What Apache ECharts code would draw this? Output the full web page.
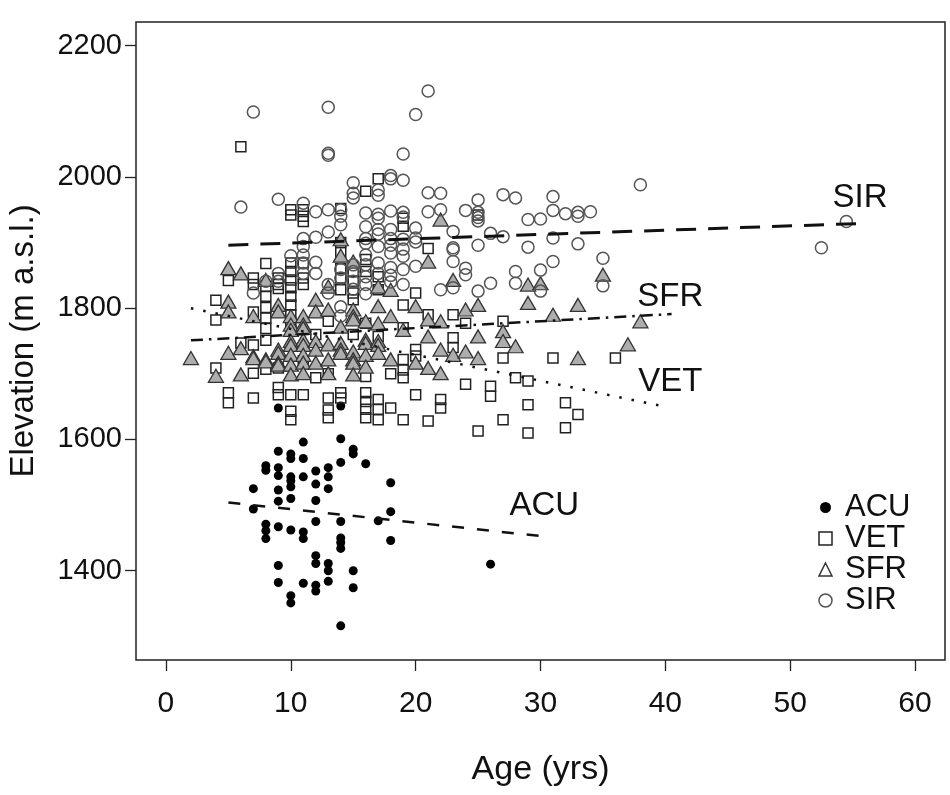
<!DOCTYPE html>
<html>
<head>
<meta charset="utf-8">
<script src="https://cdn.jsdelivr.net/npm/echarts@6/dist/echarts.min.js"></script>
<style>
  html, body { margin: 0; padding: 0; background: #fff; }
  #chart { width: 950px; height: 795px; }
</style>
</head>
<body>
<div id="chart"></div>
<script>
// ---- data (age in years, elevation in m a.s.l.) ----
var ACU = [[9,1648],[14,1651],[11,1596],[14,1601],[15,1585],[15,1578],[9,1582],[10,1578],[10,1571],[11,1571],[14,1565],[16,1563],[8,1560],[8,1553],[9,1557],[9,1545],[10,1543],[10,1537],[10,1528],[11,1543],[12,1552],[12,1532],[13,1557],[13,1543],[13,1525],[7,1525],[9,1523],[10,1510],[12,1507],[9,1506],[18,1534],[7,1494],[9,1467],[8,1471],[8,1461],[8,1449],[10,1462],[11,1459],[11,1449],[12,1475],[14,1475],[14,1450],[14,1443],[14,1434],[17,1476],[18,1490],[18,1446],[26,1410],[9,1408],[9,1382],[11,1381],[12,1423],[12,1411],[12,1378],[12,1369],[13,1411],[13,1400],[13,1384],[15,1400],[15,1374],[10,1362],[10,1351],[14,1316]];

var VET = [[6,2046],[17,1997],[16,1978],[10,1950],[10,1942],[11,1950],[11,1940],[11,1932],[14,1952],[19,1937],[19,1925],[21,1891],[25,1942],
[4,1812],[4,1782],[4,1709],[5,1842],[5,1671],[5,1656],[6,1747],
[7,1846],[7,1836],[7,1794],[7,1744],[7,1701],[7,1663],
[8,1868],[8,1833],[8,1818],[8,1801],[8,1785],[8,1769],[8,1751],[8,1707],
[9,1846],[9,1836],[9,1830],[9,1709],[9,1679],[9,1668],
[10,1869],[10,1856],[10,1843],[10,1831],[10,1818],[10,1805],[10,1790],[10,1778],[10,1766],[10,1668],[10,1643],[10,1630],
[11,1869],[11,1846],[11,1836],[11,1720],[11,1668],
[12,1760],[12,1694],[13,1780],[13,1700],[13,1663],[13,1645],[13,1633],
[14,1900],[14,1885],[14,1860],[14,1846],[14,1828],[14,1671],[14,1663],
[15,1856],[15,1841],[15,1823],[15,1813],[15,1760],
[16,1874],[16,1856],[16,1777],[16,1696],[16,1671],[16,1658],[16,1646],[16,1633],
[17,1848],[17,1828],[17,1757],[17,1661],[17,1646],[17,1630],
[18,1700],[18,1648],
[19,1805],[19,1770],[19,1722],[19,1706],[19,1694],[19,1630],
[20,1823],[20,1737],[20,1727],[20,1668],
[21,1790],[21,1628],[22,1661],[22,1648],
[23,1790],[23,1755],[23,1740],[24,1777],[24,1684],[25,1613],[26,1681],[26,1666],
[27,1780],[27,1724],[27,1630],[28,1694],[29,1689],[29,1653],[29,1610],
[31,1724],[32,1656],[32,1618],[33,1638],[36,1724]];

var SFR = [[2,1724],[4,1697],[5,1861],[5,1810],[5,1795],[5,1732],[6,1853],[6,1739],[6,1699],[7,1788],[7,1727],[7,1724],
[8,1843],[8,1722],[8,1719],
[9,1805],[9,1795],[9,1737],[9,1732],[9,1717],[9,1714],
[10,1788],[10,1775],[10,1767],[10,1750],[10,1744],[10,1729],[10,1714],[10,1699],
[11,1788],[11,1775],[11,1770],[11,1752],[11,1744],[11,1729],[11,1717],[11,1701],
[12,1813],[12,1795],[12,1750],[12,1737],[12,1717],
[13,1833],[13,1798],[13,1745],[13,1722],[13,1701],
[14,1905],[14,1880],[14,1772],[14,1747],[14,1737],[14,1732],
[15,1871],[15,1798],[15,1788],[15,1783],[15,1734],[15,1722],[15,1717],[15,1699],
[16,1780],[16,1752],[16,1747],[16,1729],[16,1711],
[17,1833],[17,1803],[17,1777],[17,1750],[17,1744],[17,1732],
[18,1828],[18,1788],[18,1722],
[19,1767],[20,1803],[20,1717],
[21,1871],[21,1783],[21,1757],[21,1709],
[22,1935],[22,1780],[22,1737],[22,1701],
[23,1843],[23,1729],[24,1798],[24,1734],
[25,1805],[25,1757],[25,1724],
[27,1765],[27,1750],[28,1742],[29,1836],[29,1808],[30,1838],[31,1790],
[33,1805],[33,1724],[35,1851],[37,1745],[38,1780]];

var SIR = [[7,2099],[13,2106],[13,2036],[13,2033],[20,2095],[21,2131],[19,2035],
[6,1954],[9,1966],[11,1960],[12,1947],[13,1950],[14,1950],[14,1940],[15,1991],[15,1975],[15,1968],[16,1945],[17,1980],[17,1972],[17,1943],[17,1937],[18,2002],[18,1997],[18,1948],[19,1995],[19,1946],[19,1939],[21,1976],[21,1947],[22,1975],[22,1950],[24,1949],[25,1965],[25,1946],[25,1938],[25,1933],[27,1973],[28,1968],[29,1935],[30,1936],[31,1970],[31,1949],[32,1944],[33,1946],[33,1940],[34,1947],[38,1988],
[11,1906],[12,1908],[13,1916],[14,1927],[16,1924],[16,1906],[17,1920],[17,1913],[18,1920],[18,1906],[19,1905],[19,1890],[20,1922],[20,1907],[23,1917],[23,1892],[26,1914],[25,1896],[27,1909],[31,1907],[29,1893],[33,1898],
[11,1894],[11,1881],[11,1869],[11,1853],[9,1853],[9,1841],[7,1823],[8,1841],[12,1853],[13,1836],[13,1823],[14,1859],[14,1846],[15,1866],[15,1856],[15,1841],[15,1829],[16,1899],[16,1881],[16,1866],[16,1848],[16,1836],[16,1822],[17,1894],[17,1869],[17,1853],[18,1896],[18,1884],[18,1862],[18,1850],[18,1840],[19,1879],[19,1859],[19,1836],[20,1901],[20,1864],[22,1828],[23,1889],[23,1871],[23,1831],[24,1861],[24,1851],[25,1826],[26,1838],[28,1856],[28,1838],[30,1858],[30,1826],[31,1871],[35,1876],[35,1834],[14,1802],[14,1788],[10,1880],[12,1870],
[52.5,1892],[54.5,1932]];

// fitted trend lines: [start, end]
var ACU_fit = [[5.0,1504],[30.4,1452]];
var VET_fit = [[2.0,1800],[39.7,1651]];
var SFR_fit = [[2.0,1751],[40.5,1791]];
var SIR_fit = [[5.0,1896],[55.6,1929]];

// in-plot labels
var lineLabelNames = ['SIR','SFR','VET','ACU'];
var lineLabelPos = [[55.6,1968],[40.4,1817],[40.4,1688],[30.3,1499]];

var xTicks = [0,10,20,30,40,50,60];
var yTicks = [1400,1600,1800,2000,2200];

var FONT = 'Liberation Sans, Arial, sans-serif';
var chart = echarts.init(document.getElementById('chart'), null, {renderer: 'canvas'});

var labelData = lineLabelNames.map(function (n, i) {
  return {name: n, value: lineLabelPos[i]};
});

function fitSeries(name, data, dash, width) {
  return {
    type: 'line', name: name + ' fit', data: data, symbol: 'none', silent: true,
    lineStyle: {color: '#111', width: width, type: dash, cap: 'butt', opacity: 1}, z: 5
  };
}

var option = {
  animation: false,
  backgroundColor: '#fff',
  textStyle: {fontFamily: FONT},
  grid: {left: 136, right: 5, top: 22, bottom: 135, show: true, outerBoundsMode: 'none',
         containLabel: false,
         borderColor: '#222', borderWidth: 1.5, backgroundColor: 'transparent'},
  xAxis: {
    type: 'value', min: -2.4, max: 62.4,
    name: 'Age (yrs)', nameLocation: 'middle', nameGap: 93,
    nameTextStyle: {fontSize: 34, color: '#111', fontFamily: FONT},
    axisLine: {show: false, onZero: false},
    splitLine: {show: false},
    axisTick: {show: true, length: 11, customValues: xTicks, lineStyle: {color: '#222', width: 1.3}},
    axisLabel: {customValues: xTicks, fontSize: 30, color: '#111', margin: 29, fontFamily: FONT,
                formatter: function (v) { return String(v); }}
  },
  yAxis: {
    type: 'value', min: 1264, max: 2236,
    name: 'Elevation (m a.s.l.)', nameLocation: 'middle', nameGap: 96,
    nameTextStyle: {fontSize: 33, color: '#111', fontFamily: FONT},
    axisLine: {show: false, onZero: false},
    splitLine: {show: false},
    axisTick: {show: true, length: 11, customValues: yTicks, lineStyle: {color: '#222', width: 1.3}},
    axisLabel: {customValues: yTicks, fontSize: 29, color: '#111', margin: 14, fontFamily: FONT,
                formatter: function (v) { return String(v); }}
  },
  legend: {
    orient: 'vertical', left: 813, top: 487,
    itemWidth: 13, itemHeight: 13, itemGap: 0,
    selectedMode: false,
    textStyle: {fontSize: 31, color: '#111', lineHeight: 28, padding: [0, 0, 0, 8], fontFamily: FONT},
    data: [
      {name: 'ACU', icon: 'circle', itemStyle: {color: '#000', borderColor: '#fff', borderWidth: 2}},
      {name: 'VET', icon: 'rect', itemStyle: {color: '#fff', borderColor: '#222', borderWidth: 1.5}},
      {name: 'SFR', icon: 'triangle', itemStyle: {color: '#fff', borderColor: '#333', borderWidth: 1.5}},
      {name: 'SIR', icon: 'circle', itemStyle: {color: '#fff', borderColor: '#555', borderWidth: 1.5}}
    ]
  },
  series: [
    {type: 'scatter', name: 'ACU', data: ACU, symbol: 'circle', symbolSize: 9,
     itemStyle: {color: '#000', opacity: 1}},
    {type: 'scatter', name: 'VET', data: VET, symbol: 'rect', symbolSize: 10,
     itemStyle: {color: 'rgba(0,0,0,0)', borderColor: '#222', borderWidth: 1.5, opacity: 1}},
    {type: 'scatter', name: 'SFR', data: SFR, symbol: 'triangle', symbolSize: [15, 13],
     itemStyle: {color: '#adadad', borderColor: '#333', borderWidth: 1.3, opacity: 1}},
    {type: 'scatter', name: 'SIR', data: SIR, symbol: 'circle', symbolSize: 12,
     itemStyle: {color: 'rgba(0,0,0,0)', borderColor: '#555', borderWidth: 1.5, opacity: 1}},
    fitSeries('ACU', ACU_fit, [12, 13], 2.5),
    fitSeries('VET', VET_fit, [2.5, 10], 2.5),
    fitSeries('SFR', SFR_fit, [12, 6, 2.5, 6], 2.5),
    fitSeries('SIR', SIR_fit, [20, 12], 3),
    {type: 'scatter', name: 'labels', data: labelData, symbolSize: 0, silent: true, z: 6,
     itemStyle: {opacity: 1},
     label: {show: true, position: 'inside', formatter: '{b}', fontSize: 33, color: '#111',
             opacity: 1, fontFamily: FONT}}
  ]
};
chart.setOption(option);
</script>
</body>
</html>
